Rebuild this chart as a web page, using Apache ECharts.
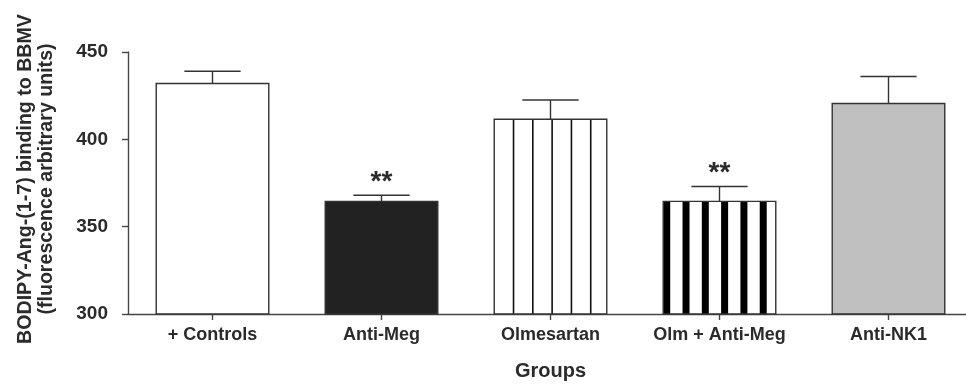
<!DOCTYPE html>
<html>
<head>
<meta charset="utf-8">
<script src="https://cdn.jsdelivr.net/npm/echarts@6/dist/echarts.min.js"></script>
<style>
html,body{margin:0;padding:0;background:#fff;}
#chart{width:966px;height:389px;}
</style>
</head>
<body>
<div id="chart"></div>
<script>
// ---- data ----
const categories = ['+ Controls', 'Anti-Meg', 'Olmesartan', 'Olm + Anti-Meg', 'Anti-NK1'];
const means = [432, 364.5, 411.5, 364.5, 420.5];
const errors = [7, 3.5, 11, 8.5, 15.5];
const marks = ['', '**', '', '**', ''];
const yTicks = [300, 350, 400, 450];

// ---- styles ----
const FONT = '"Liberation Sans", Arial, Helvetica, sans-serif';
const TEXT = '#2b2b2b';
const AXIS = '#464646';
const OUTLINE = '#333333';
const barStyles = [
  { fill: '#ffffff', pattern: null },
  { fill: '#222222', pattern: null },
  { fill: '#ffffff', pattern: 'thin' },
  { fill: '#ffffff', pattern: 'thick' },
  { fill: '#c0c0c0', pattern: null }
];
const STRIPE_PERIOD = 19.3;

const chart = echarts.init(document.getElementById('chart'), null, { renderer: 'canvas' });

const seriesData = categories.map((c, i) => [i, means[i], errors[i]]);

function renderItem(params, api) {
  const idx = api.value(0);
  const v = api.value(1);
  const err = api.value(2);
  const top = api.coord([idx, v]);
  const base = api.coord([idx, yTicks[0]]);
  const errTop = api.coord([idx, v + err]);
  const band = api.size([1, 0])[0];
  const w = band * 0.666;
  const x0 = top[0] - w / 2;
  const h = base[1] - top[1];
  const st = barStyles[idx];
  const children = [];
  children.push({
    type: 'rect',
    shape: { x: x0, y: top[1], width: w, height: h },
    style: { fill: st.fill, stroke: null }
  });
  if (st.pattern === 'thin') {
    for (let k = 1; x0 + k * STRIPE_PERIOD < x0 + w - 4; k++) {
      const xx = x0 + k * STRIPE_PERIOD;
      children.push({
        type: 'line',
        shape: { x1: xx, y1: top[1], x2: xx, y2: base[1] },
        style: { stroke: '#111', lineWidth: 1.6 }
      });
    }
  } else if (st.pattern === 'thick') {
    for (let k = 0; x0 + k * STRIPE_PERIOD < x0 + w - 7; k++) {
      const xx = x0 + k * STRIPE_PERIOD;
      children.push({
        type: 'rect',
        shape: { x: xx, y: top[1], width: 7, height: h },
        style: { fill: '#000' }
      });
    }
  }
  children.push({
    type: 'rect',
    shape: { x: x0, y: top[1], width: w, height: h },
    style: { fill: 'none', stroke: OUTLINE, lineWidth: 1.4 }
  });
  // error bar (upper only)
  const capW = w * 0.5;
  children.push({
    type: 'line',
    shape: { x1: top[0], y1: top[1], x2: top[0], y2: errTop[1] },
    style: { stroke: OUTLINE, lineWidth: 1.4 }
  });
  children.push({
    type: 'line',
    shape: { x1: top[0] - capW / 2, y1: errTop[1], x2: top[0] + capW / 2, y2: errTop[1] },
    style: { stroke: OUTLINE, lineWidth: 1.4 }
  });
  if (marks[idx]) {
    children.push({
      type: 'text',
      style: {
        text: marks[idx],
        x: top[0],
        y: errTop[1] + 1,
        align: 'center',
        verticalAlign: 'bottom',
        font: 'bold 28px ' + FONT,
        fill: TEXT
      }
    });
  }
  return { type: 'group', children: children };
}

chart.setOption({
  animation: false,
  backgroundColor: '#ffffff',
  grid: { left: 128, top: 52, width: 845, height: 262, outerBoundsMode: 'none', containLabel: false },
  xAxis: {
    type: 'category',
    data: categories,
    boundaryGap: true,
    name: 'Groups',
    nameLocation: 'middle',
    nameGap: 47,
    nameTextStyle: { fontFamily: FONT, fontWeight: 'bold', fontSize: 20, color: TEXT },
    axisLine: { show: true, lineStyle: { color: AXIS, width: 1.4 } },
    axisTick: { show: true, alignWithLabel: true, length: 6, lineStyle: { color: AXIS, width: 1.4 } },
    axisLabel: { margin: 12, fontFamily: FONT, fontWeight: 'bold', fontSize: 18, color: TEXT, interval: 0 },
    splitLine: { show: false }
  },
  yAxis: {
    type: 'value',
    min: 300,
    max: 450,
    interval: 50,
    name: 'BODIPY-Ang-(1-7) binding to BBMV\n(fluorescence arbitrary units)',
    nameLocation: 'middle',
    nameGap: 71,
    nameTextStyle: { fontFamily: FONT, fontWeight: 'bold', fontSize: 19.6, lineHeight: 21, color: TEXT, align: 'center', padding: [0, 0, 0, 8] },
    axisLine: { show: true, lineStyle: { color: AXIS, width: 1.4 } },
    axisTick: { show: true, length: 6, lineStyle: { color: AXIS, width: 1.4 } },
    axisLabel: { margin: 20, fontFamily: FONT, fontWeight: 'bold', fontSize: 19, color: TEXT },
    splitLine: { show: false }
  },
  series: [{
    type: 'custom',
    renderItem: renderItem,
    data: seriesData,
    encode: { x: 0, y: 1 },
    clip: false
  }]
});
</script>
</body>
</html>
